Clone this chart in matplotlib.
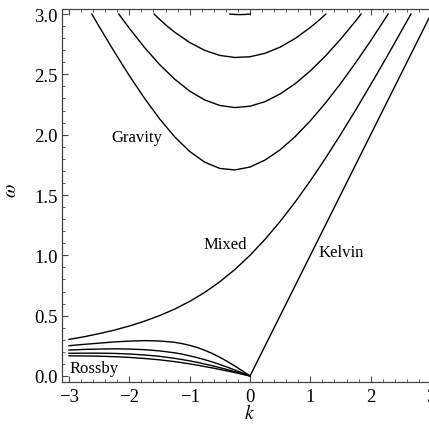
import matplotlib
matplotlib.use("Agg")
import numpy as np
import matplotlib.pyplot as plt
from matplotlib.ticker import MultipleLocator

# values (k, omega)
kelvin_k = [0.0, 3.0]
kelvin_w = [0.0, 3.0]

mixed_k = [-3.0, -2.75, -2.5, -2.25, -2.0, -1.75, -1.5, -1.25, -1.0, -0.75, -0.5, -0.25,
           0.0, 0.25, 0.5, 0.75, 1.0, 1.25, 1.5, 1.75, 2.0, 2.25, 2.5, 2.667]
mixed_w = [0.303, 0.325, 0.351, 0.380, 0.414, 0.454, 0.500, 0.554, 0.618, 0.693, 0.781, 0.883,
           1.000, 1.133, 1.281, 1.443, 1.618, 1.804, 2.000, 2.204, 2.414, 2.630, 2.851, 3.000]

grav1_k = [-2.622, -2.5, -2.25, -2.0, -1.75, -1.5, -1.25, -1.0, -0.75, -0.5, -0.25, 0.0,
           0.25, 0.5, 0.75, 1.0, 1.25, 1.5, 1.75, 2.0, 2.289]
grav1_w = [3.000, 2.896, 2.688, 2.489, 2.303, 2.132, 1.983, 1.861, 1.772, 1.720, 1.708, 1.732,
           1.790, 1.875, 1.985, 2.115, 2.262, 2.423, 2.596, 2.778, 3.000]

grav2_k = [-2.174, -2.0, -1.75, -1.5, -1.25, -1.0, -0.75, -0.5, -0.25, 0.0,
           0.25, 0.5, 0.75, 1.0, 1.25, 1.5, 1.75, 1.840]
grav2_w = [3.000, 2.882, 2.724, 2.582, 2.461, 2.361, 2.288, 2.242, 2.225, 2.236,
           2.274, 2.338, 2.423, 2.529, 2.652, 2.791, 2.942, 3.000]

grav3_k = [-1.590, -1.5, -1.375, -1.25, -1.0, -0.75, -0.5, -0.25, 0.0,
           0.25, 0.5, 0.75, 1.0, 1.125, 1.257]
grav3_w = [3.000, 2.957, 2.901, 2.850, 2.764, 2.699, 2.657, 2.640, 2.646,
           2.675, 2.726, 2.798, 2.889, 2.941, 3.000]

grav4_k = [-0.333, -0.25, -0.167, -0.083, 0.0]
grav4_w = [3.000, 2.9965, 2.9954, 2.9965, 3.000]

ross_k = [-3.0, -2.75, -2.5, -2.25, -2.0, -1.75, -1.5, -1.25, -1.125, -1.0, -0.875,
          -0.75, -0.625, -0.5, -0.375, -0.25, -0.125, 0.0]
ross1_w = [0.251, 0.262, 0.272, 0.282, 0.289, 0.293, 0.290, 0.279, 0.268, 0.254, 0.236,
           0.213, 0.186, 0.155, 0.120, 0.082, 0.042, 0.0]
ross2_w = [0.215, 0.220, 0.223, 0.225, 0.223, 0.218, 0.208, 0.192, 0.181, 0.167, 0.152,
           0.135, 0.116, 0.095, 0.073, 0.049, 0.025, 0.0]
ross3_w = [0.188, 0.189, 0.189, 0.187, 0.182, 0.174, 0.163, 0.146, 0.136, 0.125, 0.113,
           0.099, 0.085, 0.069, 0.053, 0.035, 0.018, 0.0]
ross4_w = [0.167, 0.166, 0.164, 0.160, 0.154, 0.145, 0.134, 0.119, 0.110, 0.100, 0.090,
           0.078, 0.067, 0.054, 0.041, 0.028, 0.014, 0.0]

labels = ["Gravity", "Mixed", "Kelvin", "Rossby"]
label_pos = [(-1.87, 1.98), (-0.41, 1.09), (1.51, 1.03), (-2.59, 0.065)]

plt.rcParams['font.family'] = ['Liberation Serif', 'DejaVu Serif']
plt.rcParams['mathtext.fontset'] = 'stix'

fig = plt.figure(figsize=(4.29, 4.31), dpi=100)
ax = fig.add_axes([62/429, 48/431, 378/429, 373.5/431])

lw = 1.0
ax.plot(kelvin_k, kelvin_w, color="black", lw=lw)
ax.plot(mixed_k, mixed_w, color="black", lw=lw)
for gk, gw in [(grav1_k, grav1_w), (grav2_k, grav2_w), (grav3_k, grav3_w), (grav4_k, grav4_w)]:
    ax.plot(gk, gw, color="black", lw=lw)
for rw in [ross1_w, ross2_w, ross3_w, ross4_w]:
    ax.plot(ross_k, rw, color="black", lw=lw)

for txt, (x, y) in zip(labels, label_pos):
    ax.text(x, y, txt, fontsize=12, ha="center", va="center")

ax.set_xlim(-3.116, 3.149)
ax.set_ylim(-0.05, 3.046)

ax.xaxis.set_major_locator(MultipleLocator(1))
ax.xaxis.set_minor_locator(MultipleLocator(0.2))
ax.yaxis.set_major_locator(MultipleLocator(0.5))
ax.yaxis.set_minor_locator(MultipleLocator(0.1))
ax.yaxis.set_major_formatter(plt.FormatStrFormatter("%.1f"))

ax.tick_params(which="both", direction="in", top=True, right=False, colors="#444444",
               labelcolor="black", labelsize=13.5)
ax.tick_params(which="major", length=4, width=0.8)
ax.tick_params(which="minor", length=2, width=0.6)
ax.tick_params(axis="x", pad=4)
ax.tick_params(axis="y", pad=3)

ax.spines["right"].set_visible(False)
for s in ["left", "bottom", "top"]:
    ax.spines[s].set_color("#444444")
    ax.spines[s].set_linewidth(0.9)

ax.set_xlabel("$k$", fontsize=14)
ax.set_ylabel(r"$\omega$", fontsize=14)
ax.xaxis.set_label_coords((249-62)/378, -0.056)
ax.yaxis.set_label_coords(-0.112, 0.514)

fig.savefig("out.png", dpi=100)
